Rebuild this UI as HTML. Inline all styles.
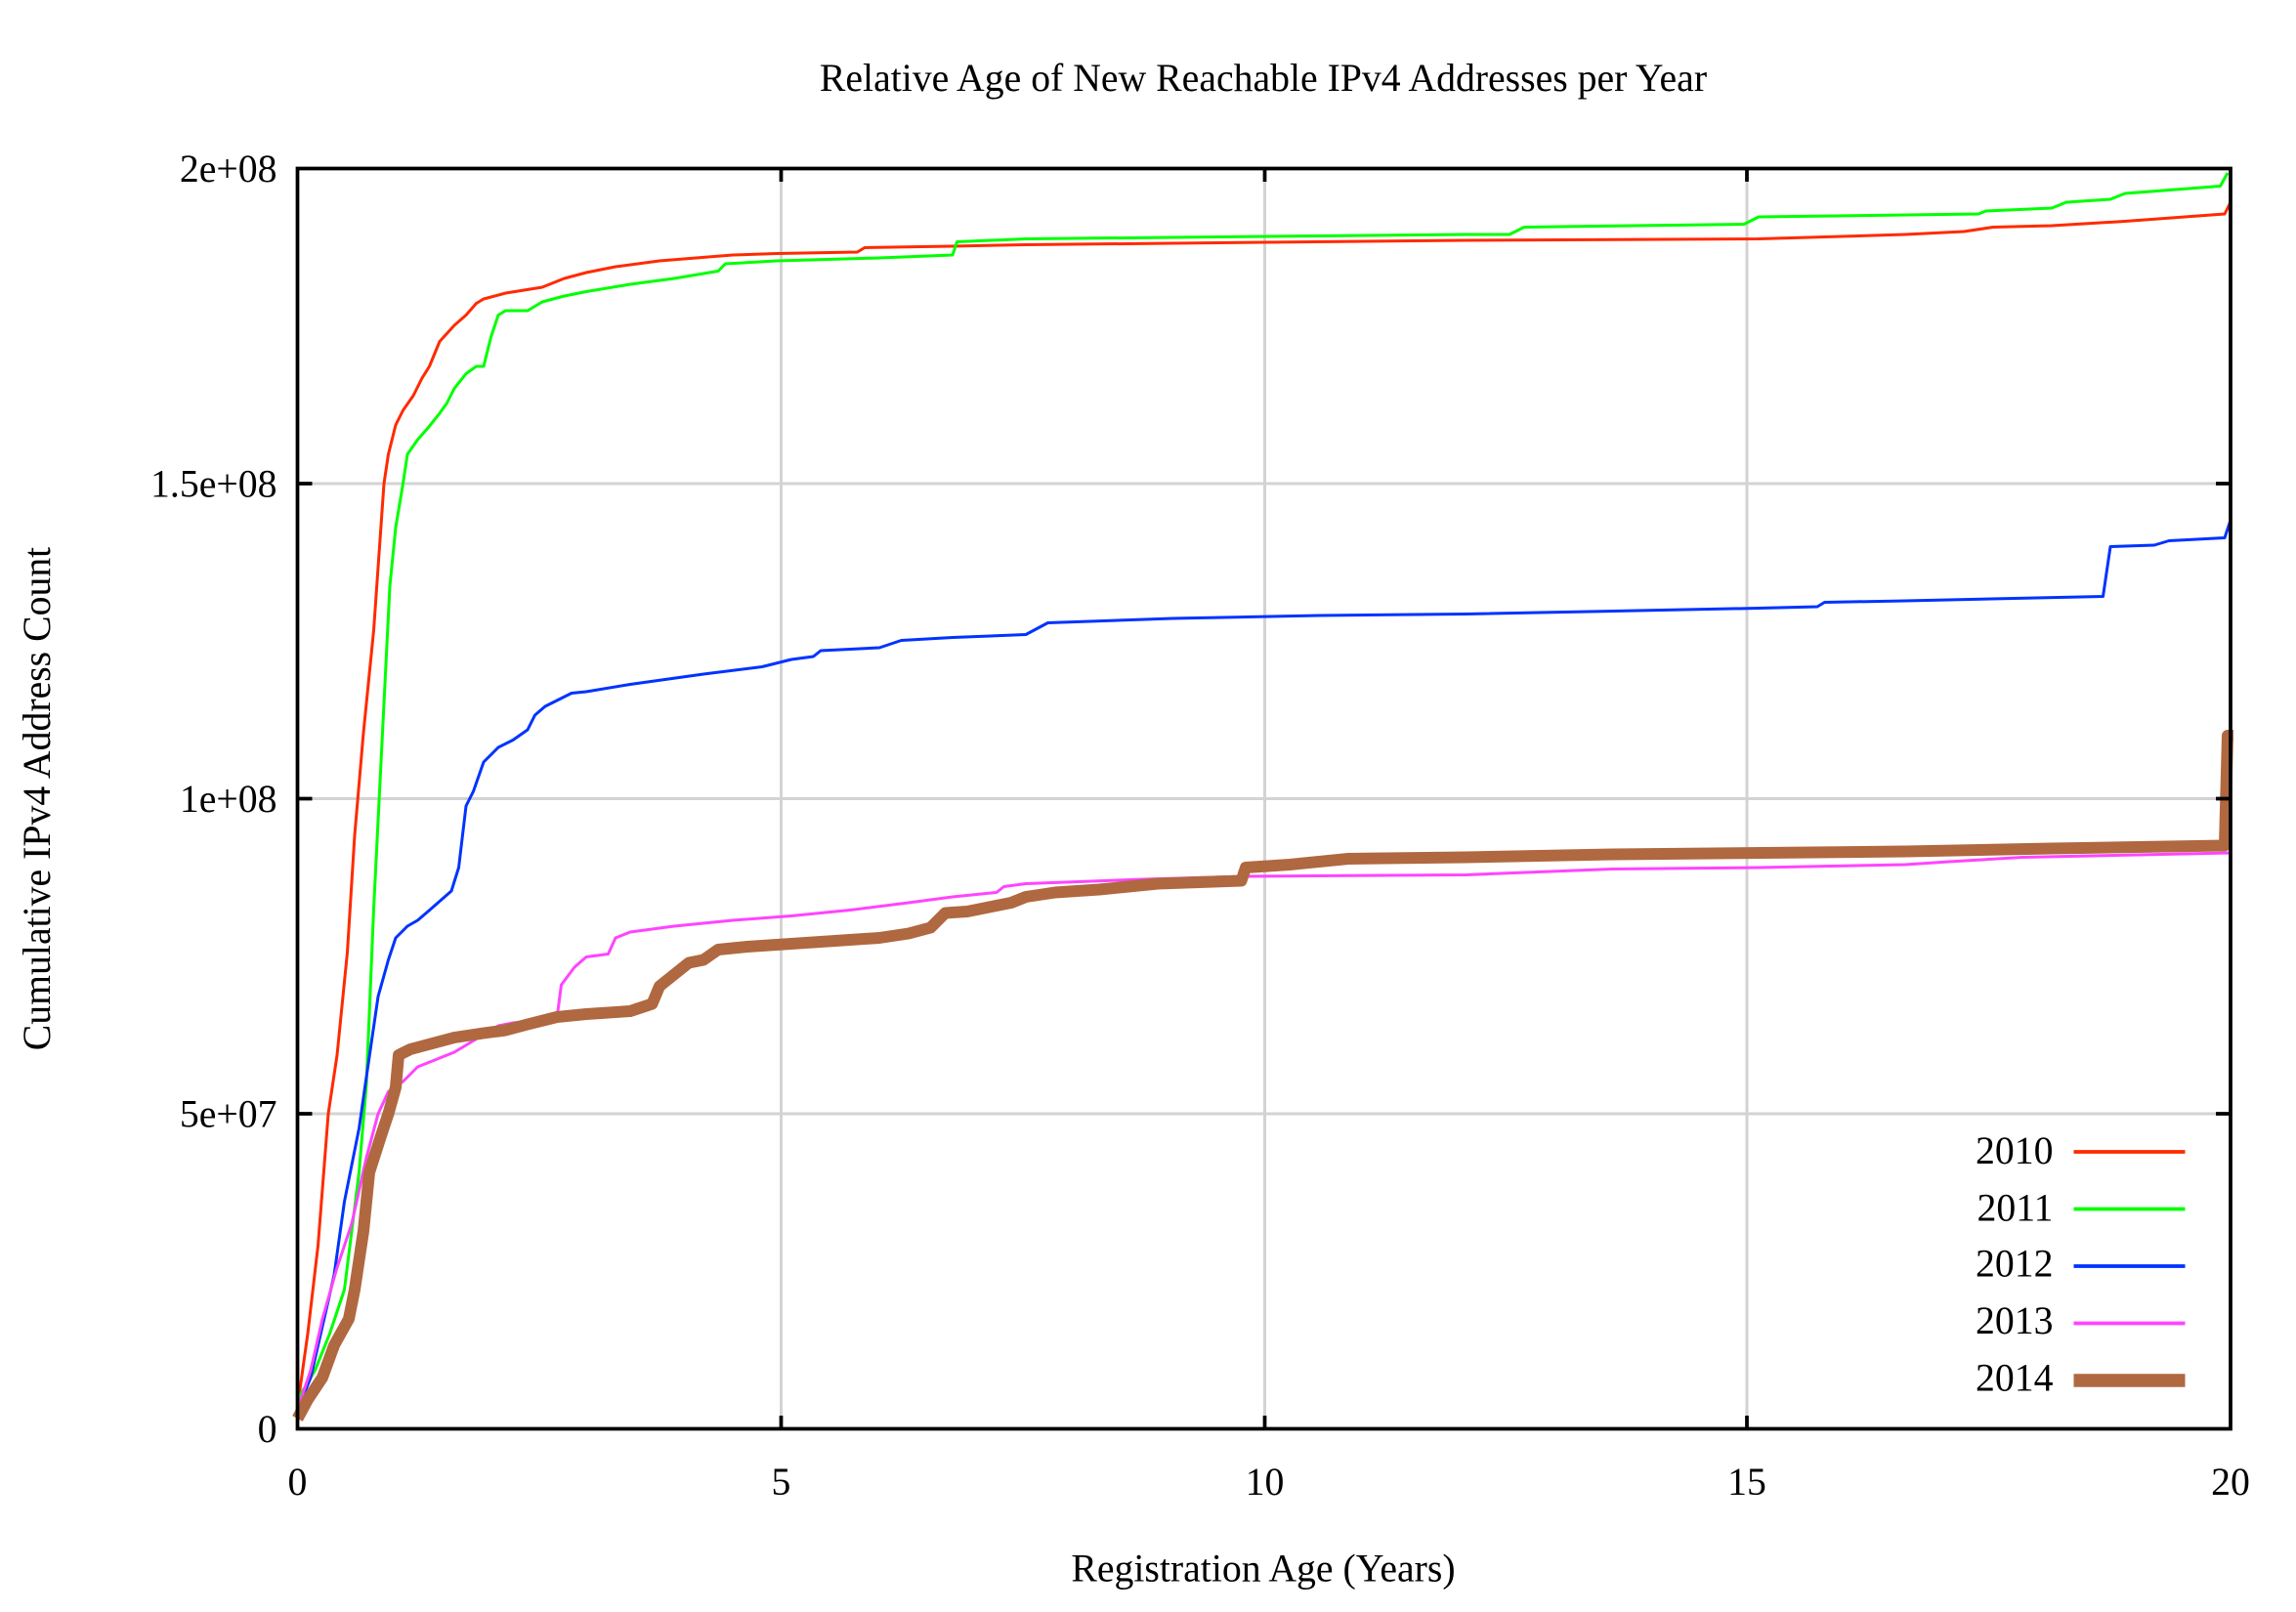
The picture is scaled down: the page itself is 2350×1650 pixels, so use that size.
<!DOCTYPE html>
<html><head><meta charset="utf-8"><style>
html,body{margin:0;padding:0;background:#fff;}
svg{display:block;}
text{font-family:"Liberation Serif",serif;fill:#000;}
</style></head><body>
<svg width="2350" height="1650" viewBox="0 0 1566.67 1100" xmlns="http://www.w3.org/2000/svg">
<rect width="1566.67" height="1100" fill="#fff"/>
<g stroke="#d3d3d3" stroke-width="2">
<line x1="533" y1="115" x2="533" y2="975"/><line x1="863" y1="115" x2="863" y2="975"/><line x1="1192" y1="115" x2="1192" y2="975"/>
<line x1="203" y1="330" x2="1522" y2="330"/><line x1="203" y1="545" x2="1522" y2="545"/><line x1="203" y1="760" x2="1522" y2="760"/>
</g>
<g fill="none" stroke-linejoin="round" stroke-width="2">
<polyline stroke="#ff2a00" points="203,960 210,910 217,850 224,760 230,720 237,650 242,570 248,500 255,430 262,330 265,310 270,290 275,280 282,270 288,258 293,250 300,233 310,222 318,215 325,207 330,204 345,200 370,196 385,190 400,186 420,182 450,178 500,174 530,173 585,172 590,169 650,168 700,167 800,166 1000,164 1200,163 1300,160 1340,158 1360,155 1400,154 1450,151 1518,146 1522,138"/>
<polyline stroke="#00ff00" points="203,955 215,935 225,910 235,880 245,800 250,740 255,620 258,560 262,480 266,400 270,360 275,330 278,310 285,300 292,292 300,282 305,275 310,265 318,255 325,250 330,250 335,230 340,215 345,212 360,212 370,206 385,202 400,199 430,194 460,190 490,185 495,180 530,178 600,176 650,174 653,165 700,163 800,162 1000,160 1030,160 1040,155 1190,153 1200,148 1350,146 1355,144 1400,142 1410,138 1440,136 1450,132 1515,127 1520,118"/>
<polyline stroke="#0033ff" points="203,962 212,940 220,905 228,870 235,820 245,770 250,735 258,680 265,655 270,640 278,632 285,628 292,622 300,615 308,608 313,592 318,550 323,540 330,520 340,510 350,505 360,498 365,488 372,482 380,478 390,473 400,472 430,467 480,460 520,455 540,450 555,448 560,444 600,442 615,437 650,435 700,433 715,425 800,422 900,420 1000,419 1200,415 1240,414 1245,411 1300,410 1435,407 1440,373 1470,372 1480,369 1518,367 1522,355"/>
<polyline stroke="#ff44ff" points="203,962 212,935 220,900 230,865 240,835 250,790 258,760 265,745 275,738 285,728 300,722 310,718 320,712 330,706 340,700 350,698 380,695 383,672 392,660 400,653 415,651 420,640 430,636 460,632 500,628 540,625 580,621 620,616 650,612 680,609 685,605 700,603 780,600 850,598 1000,597 1100,593 1200,592 1300,590 1330,588 1380,585 1522,582"/>
<polyline stroke="#b06840" stroke-width="8" points="203,968 210,955 220,940 228,918 238,900 242,880 248,840 252,800 260,775 265,760 270,742 272,720 280,716 295,712 310,708 330,705 345,703 360,699 380,694 400,692 430,690 445,685 450,673 460,665 470,657 480,655 490,648 510,646 540,644 570,642 600,640 620,637 635,633 645,623 660,622 675,619 690,616 700,612 720,609 750,607 770,605 790,603 847,601 850,592 880,590 920,586 1000,585 1100,583 1300,581 1400,579 1518,577 1520,502 1524,502"/>
</g>
<rect x="203" y="115" width="1319" height="860" fill="none" stroke="#000" stroke-width="2.5"/>
<g stroke="#000" stroke-width="2.5">
<line x1="533" y1="975" x2="533" y2="966"/><line x1="863" y1="975" x2="863" y2="966"/><line x1="1192" y1="975" x2="1192" y2="966"/>
<line x1="533" y1="115" x2="533" y2="124"/><line x1="863" y1="115" x2="863" y2="124"/><line x1="1192" y1="115" x2="1192" y2="124"/>
<line x1="203" y1="330" x2="213" y2="330"/><line x1="203" y1="545" x2="213" y2="545"/><line x1="203" y1="760" x2="213" y2="760"/>
<line x1="1522" y1="330" x2="1512" y2="330"/><line x1="1522" y1="545" x2="1512" y2="545"/><line x1="1522" y1="760" x2="1512" y2="760"/>
</g>
<text x="862" y="62" font-size="26.5" text-anchor="middle">Relative Age of New Reachable IPv4 Addresses per Year</text>
<g font-size="26.5" text-anchor="end">
<text x="189" y="124">2e+08</text><text x="189" y="339">1.5e+08</text><text x="189" y="554">1e+08</text><text x="189" y="769">5e+07</text><text x="189" y="984">0</text>
</g>
<g font-size="26.5" text-anchor="middle">
<text x="203" y="1020">0</text><text x="533" y="1020">5</text><text x="863" y="1020">10</text><text x="1192" y="1020">15</text><text x="1522" y="1020">20</text>
<text x="862" y="1079">Registration Age (Years)</text>
<text transform="translate(34,545) rotate(-90)">Cumulative IPv4 Address Count</text>
</g>
<g font-size="26.5" text-anchor="end">
<text x="1401" y="794">2010</text><text x="1401" y="833">2011</text><text x="1401" y="871">2012</text><text x="1401" y="910">2013</text><text x="1401" y="949">2014</text>
</g>
<line x1="1415" y1="786" x2="1491" y2="786" stroke="#ff2a00" stroke-width="2.5"/>
<line x1="1415" y1="825" x2="1491" y2="825" stroke="#00ff00" stroke-width="2.5"/>
<line x1="1415" y1="864" x2="1491" y2="864" stroke="#0033ff" stroke-width="2.5"/>
<line x1="1415" y1="903" x2="1491" y2="903" stroke="#ff44ff" stroke-width="2.5"/>
<line x1="1415" y1="942" x2="1491" y2="942" stroke="#b06840" stroke-width="9"/>
</svg>
</body></html>
